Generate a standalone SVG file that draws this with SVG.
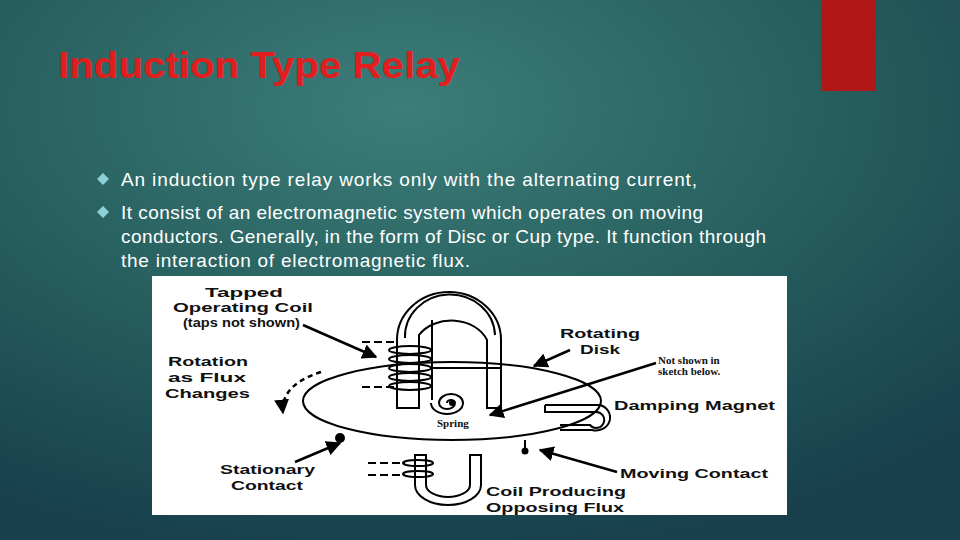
<svg xmlns="http://www.w3.org/2000/svg" width="960" height="540" viewBox="0 0 960 540">
<defs>
<radialGradient id="bg" cx="0.42" cy="0.2" r="0.85">
<stop offset="0" stop-color="#3c7d79"/><stop offset="0.5" stop-color="#27605f"/><stop offset="1" stop-color="#173f4c"/>
</radialGradient>
<marker id="ah" viewBox="0 0 10 10" refX="9" refY="5" markerWidth="6" markerHeight="6" orient="auto"><path d="M0,0 L10,5 L0,10 z" fill="#000"/></marker>
<style>
.b{font-family:"Liberation Sans",Arial,sans-serif;font-size:19px;fill:#fff}
.l{font-family:"Liberation Sans",Arial,sans-serif;font-size:13.5px;font-weight:bold;fill:#111}
.s{font-family:"Liberation Serif",serif;font-size:11px;font-weight:bold;fill:#111}
.k{fill:none;stroke:#000;stroke-width:2}
.a{stroke:#000;stroke-width:2.5;fill:none;marker-end:url(#ah)}
</style>
</defs>
<rect width="960" height="540" fill="url(#bg)"/>
<rect x="821" y="0" width="55" height="91" fill="#b01818"/>
<text x="58" y="78" font-family="Liberation Sans,Arial,sans-serif" font-size="36" font-weight="bold" fill="#e01e1e" textLength="402" lengthAdjust="spacingAndGlyphs">Induction Type Relay</text>
<g id="bullets">
<path d="M103,173 l6,6 l-6,6 l-6,-6z" fill="#8fd0d6"/>
<path d="M103,206 l6,6 l-6,6 l-6,-6z" fill="#8fd0d6"/>
<text class="b" x="121" y="186" textLength="576">An induction type relay works only with the alternating current,</text>
<text class="b" x="121" y="219" textLength="582">It consist of an electromagnetic system which operates on moving</text>
<text class="b" x="121" y="243" textLength="645">conductors. Generally, in the form of Disc or Cup type. It function through</text>
<text class="b" x="121" y="267" textLength="349">the interaction of electromagnetic flux.</text>
</g>
<g id="figure">
<rect x="152" y="276" width="635" height="239" fill="#fff"/>
<ellipse class="k" cx="452" cy="401" rx="149" ry="39"/>
<g id="magnet">
<path class="k" d="M397,408 V340 A52,48 0 0 1 501,340 V408 H487 V340 A38,30 0 0 0 419,335 V408 Z" fill="#fff"/>
<path class="k" d="M405,338 A45,42 0 0 1 495,335"/>
<path class="k" d="M432,320 V400"/>
</g>
<g id="coil" class="k">
<ellipse cx="410" cy="350" rx="21" ry="4"/><ellipse cx="410" cy="359" rx="21" ry="4"/><ellipse cx="410" cy="368" rx="21" ry="4"/><ellipse cx="410" cy="377" rx="21" ry="4"/><ellipse cx="410" cy="386" rx="21" ry="4"/>
<path d="M362,342 H394 M362,387 H394" stroke-dasharray="8,4"/>
<path d="M432,368 H500"/>
</g>
<g id="spring" class="k"><path d="M450,403 m-3,0 a4,3 0 1 1 8,0 a8,6 0 1 1 -16,0 a12,9 0 1 1 24,0 a16,11 0 1 1 -32,0"/></g>
<circle cx="452" cy="403" r="3"/>
<text class="s" x="437" y="427">Spring</text>
<g id="damping"><path class="k" d="M545,405 H600 A14,13 0 1 1 592,430 H560 M545,405 V412 H595 A8,8 0 1 1 590,425 H560"/></g>
<circle cx="340" cy="438" r="5"/>
<path d="M525,440 V448" stroke="#000" stroke-width="2"/><circle cx="525" cy="451" r="3.5"/>
<g id="lowermagnet"><path class="k" d="M415,455 V485 A33,20 0 0 0 481,485 V455 H470 V485 A22,12 0 0 1 426,485 V455 Z" fill="#fff"/>
<ellipse class="k" cx="418" cy="463" rx="15" ry="3"/><ellipse class="k" cx="418" cy="474" rx="15" ry="3"/>
<path class="k" d="M368,463 H405 M368,475 H405" stroke-dasharray="8,4"/></g>
<g id="connectors">
<path class="a" d="M303,325 L376,357"/>
<path class="a" d="M570,350 L534,366"/>
<path class="a" d="M656,363 L490,415"/>
<path class="a" d="M295,462 L340,443"/>
<path class="a" d="M617,472 L540,450"/>
<path class="a" d="M321,372 Q280,385 283,413" stroke-dasharray="5,4"/>
</g>
<g id="labels" lengthAdjust="spacingAndGlyphs">
<text class="l" x="205" y="297" textLength="78" lengthAdjust="spacingAndGlyphs">Tapped</text>
<text class="l" x="173" y="312" textLength="140" lengthAdjust="spacingAndGlyphs">Operating Coil</text>
<text class="l" x="183" y="327" font-size="9.5" textLength="117" lengthAdjust="spacingAndGlyphs">(taps not shown)</text>
<text class="l" x="560" y="338" textLength="80" lengthAdjust="spacingAndGlyphs">Rotating</text>
<text class="l" x="580" y="354" textLength="40" lengthAdjust="spacingAndGlyphs">Disk</text>
<text class="s" x="658" y="364">Not shown in</text>
<text class="s" x="658" y="375">sketch below.</text>
<text class="l" x="168" y="366" textLength="80" lengthAdjust="spacingAndGlyphs">Rotation</text>
<text class="l" x="168" y="382" textLength="78" lengthAdjust="spacingAndGlyphs">as Flux</text>
<text class="l" x="165" y="398" textLength="85" lengthAdjust="spacingAndGlyphs">Changes</text>
<text class="l" x="614" y="410" textLength="161" lengthAdjust="spacingAndGlyphs">Damping Magnet</text>
<text class="l" x="220" y="474" textLength="95" lengthAdjust="spacingAndGlyphs">Stationary</text>
<text class="l" x="231" y="490" textLength="72" lengthAdjust="spacingAndGlyphs">Contact</text>
<text class="l" x="620" y="478" textLength="148" lengthAdjust="spacingAndGlyphs">Moving Contact</text>
<text class="l" x="486" y="496" textLength="140" lengthAdjust="spacingAndGlyphs">Coil Producing</text>
<text class="l" x="486" y="512" textLength="138" lengthAdjust="spacingAndGlyphs">Opposing Flux</text>
</g>
</g>
</svg>
